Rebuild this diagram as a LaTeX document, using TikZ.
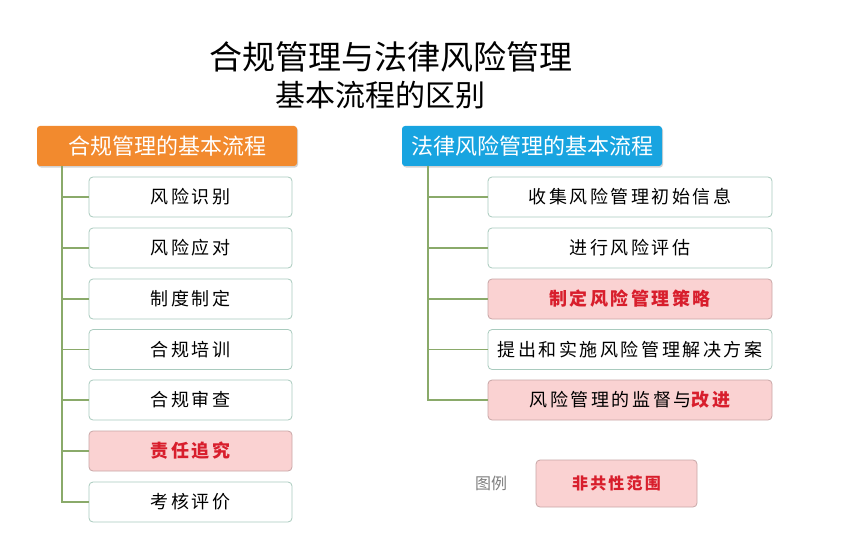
\documentclass[tikz,border=0pt]{standalone}
\usepackage{fontspec}
\newfontfamily\cjk{Noto Sans CJK SC}
\newfontfamily\cjkw{Noto Sans CJK SC}[LetterSpace=14]
\usetikzlibrary{shadows}
\definecolor{orangeh}{HTML}{F28A2E}
\definecolor{blueh}{HTML}{18A4E0}
\definecolor{linegreen}{HTML}{8AAA6A}
\definecolor{boxborder}{HTML}{A9CBBE}
\definecolor{pinkfill}{HTML}{FAD2D2}
\definecolor{pinkborder}{HTML}{C9A7A7}
\definecolor{redtext}{HTML}{D81E2C}
\tikzset{
  header/.style={rounded corners=3pt, minimum width=260pt, minimum height=40pt, text=white, font=\cjk\fontsize{22}{24}\selectfont, inner sep=0pt, drop shadow={shadow xshift=1pt, shadow yshift=-1.5pt, opacity=0.35}},
  itembox/.style={draw=boxborder, line width=0.8pt, fill=white, rounded corners=4pt, minimum height=40pt, inner sep=0pt, font=\cjkw\fontsize{18}{20}\selectfont},
  leftbox/.style={itembox, minimum width=203pt},
  rightbox/.style={itembox, minimum width=284pt},
  pinkbox/.style={fill=pinkfill, draw=pinkborder},
  conn/.style={draw=linegreen, line width=1.2pt},
}
\begin{document}
\begin{tikzpicture}[x=1pt,y=-1pt]
\useasboundingbox (0,0) rectangle (850,540);
\fill[white] (0,0) rectangle (850,540);
% title
\node[font=\cjk\fontsize{33}{35}\selectfont] (t1) at (391,57) {合规管理与法律风险管理};
\node[font=\cjk\fontsize{30}{32}\selectfont] (t2) at (380,95) {基本流程的区别};
% headers
\node[header, fill=orangeh] (lh) at (167,146) {合规管理的基本流程};
\node[header, fill=blueh] (rh) at (532,146) {法律风险管理的基本流程};
% left items
\node[leftbox] (l1) at (190.5,197) {风险识别};
\node[leftbox] (l2) at (190.5,248) {风险应对};
\node[leftbox] (l3) at (190.5,299) {制度制定};
\node[leftbox] (l4) at (190.5,349.5) {合规培训};
\node[leftbox] (l5) at (190.5,400) {合规审查};
\node[leftbox, pinkbox, text=redtext, font=\cjkw\bfseries\fontsize{18}{20}\selectfont] (l6) at (190.5,451) {责任追究};
\node[leftbox] (l7) at (190.5,502) {考核评价};
% right items
\node[rightbox] (r1) at (630,197) {收集风险管理初始信息};
\node[rightbox] (r2) at (630,248) {进行风险评估};
\node[rightbox, pinkbox, text=redtext, font=\cjkw\bfseries\fontsize{18}{20}\selectfont] (r3) at (630,299) {制定风险管理策略};
\node[rightbox] (r4) at (630,349.5) {提出和实施风险管理解决方案};
\node[rightbox, pinkbox] (r5) at (630,400) {风险管理的监督与\textcolor{redtext}{\bfseries 改进}};
% connectors
\coordinate (lv) at (62,166);
\coordinate (rv) at (428,166);
\draw[conn] (lv) |- (l7.west);
\foreach \n in {l1,l2,l3,l4,l5,l6} \draw[conn] (lv |- \n.west) -- (\n.west);
\draw[conn] (rv) |- (r5.west);
\foreach \n in {r1,r2,r3,r4} \draw[conn] (rv |- \n.west) -- (\n.west);
% legend
\node[font=\cjk\fontsize{16}{18}\selectfont, text=black!50] (lg) at (491,483) {图例};
\node[itembox, pinkbox, minimum width=161pt, minimum height=47pt, text=redtext, font=\cjkw\bfseries\fontsize{16}{18}\selectfont] (lb) at (616.5,483.5) {非共性范围};
\end{tikzpicture}
\end{document}
